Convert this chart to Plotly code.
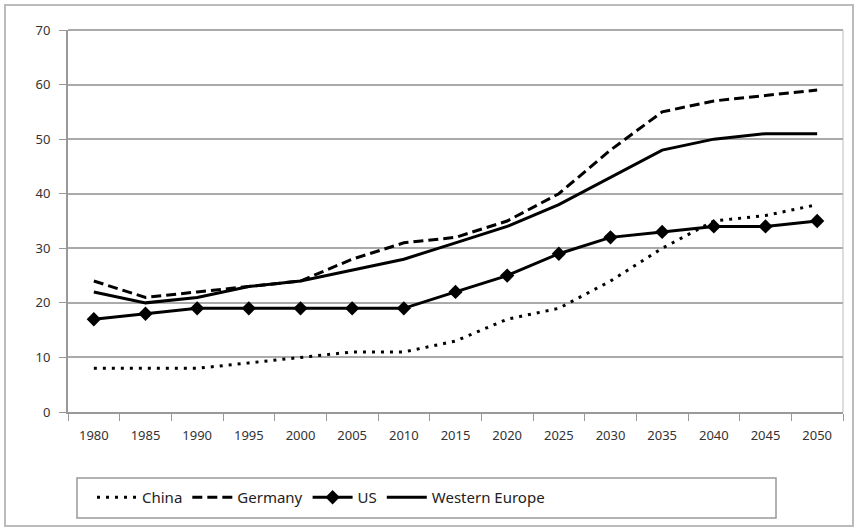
import plotly.graph_objects as go

years = ["1980", "1985", "1990", "1995", "2000", "2005", "2010", "2015",
         "2020", "2025", "2030", "2035", "2040", "2045", "2050"]
china = [8, 8, 8, 9, 10, 11, 11, 13, 17, 19, 24, 30, 35, 36, 38]
germany = [24, 21, 22, 23, 24, 28, 31, 32, 35, 40, 48, 55, 57, 58, 59]
us = [17, 18, 19, 19, 19, 19, 19, 22, 25, 29, 32, 33, 34, 34, 35]
western_europe = [22, 20, 21, 23, 24, 26, 28, 31, 34, 38, 43, 48, 50, 51, 51]
y_ticks = [0, 10, 20, 30, 40, 50, 60, 70]

W, H = 858, 529
ml, mr, mt, mb = 68, 15, 30, 117
pw, ph = W - ml - mr, H - mt - mb

def px_x(x):
    return (x - ml) / pw

def px_y(y):
    return (H - mb - y) / ph

fig = go.Figure()
fig.add_trace(go.Scatter(x=years, y=china, name="China", mode="lines",
                         line=dict(color="black", width=3, dash="3px,6px")))
fig.add_trace(go.Scatter(x=years, y=germany, name="Germany", mode="lines",
                         line=dict(color="black", width=3, dash="10px,5px")))
fig.add_trace(go.Scatter(x=years, y=us, name="US", mode="lines+markers",
                         line=dict(color="black", width=3),
                         marker=dict(symbol="diamond", size=11, color="black")))
fig.add_trace(go.Scatter(x=years, y=western_europe, name="Western Europe", mode="lines",
                         line=dict(color="black", width=3)))

fig.update_layout(
    width=W, height=H,
    margin=dict(l=ml, r=mr, t=mt, b=mb),
    paper_bgcolor="white", plot_bgcolor="white",
    font=dict(family="Noto Sans", size=13, color="#333"),
    showlegend=True,
    legend=dict(orientation="h", x=px_x(92), y=px_y(481), xanchor="left", yanchor="top",
                bgcolor="rgba(0,0,0,0)", borderwidth=0, font=dict(size=15, color="#222"),
                itemwidth=40, tracegroupgap=0),
    xaxis=dict(type="category", range=[-0.5, 14.5], showgrid=False,
               showline=True, linecolor="#999", linewidth=2,
               ticks="outside", tickson="boundaries", ticklen=7, tickcolor="#999",
               tickwidth=1, fixedrange=True, ticklabelstandoff=10),
    yaxis=dict(range=[0, 70], tickvals=y_ticks, showgrid=True, gridcolor="#aaa",
               gridwidth=2, showline=True, linecolor="#999", linewidth=2,
               ticks="outside", ticklen=7, tickcolor="#999", zeroline=False,
               mirror=False, ticklabelstandoff=6, fixedrange=True),
    shapes=[
        dict(type="rect", xref="paper", yref="paper",
             x0=px_x(5), x1=px_x(853), y0=px_y(526), y1=px_y(5),
             line=dict(color="#bbb", width=2), layer="below"),
        dict(type="rect", xref="paper", yref="paper",
             x0=px_x(77), x1=px_x(776), y0=px_y(518), y1=px_y(478),
             line=dict(color="#999", width=1.5), layer="below"),
        dict(type="line", xref="paper", yref="paper",
             x0=px_x(68), x1=px_x(843), y0=1, y1=1,
             line=dict(color="#aaa", width=2)),
        dict(type="line", xref="paper", yref="paper",
             x0=1, x1=1, y0=0, y1=1,
             line=dict(color="#bbb", width=1)),
    ],
)

fig.write_html("out.html", config={"displayModeBar": False},
               post_script="document.body.style.margin='0';document.body.style.padding='0';")
